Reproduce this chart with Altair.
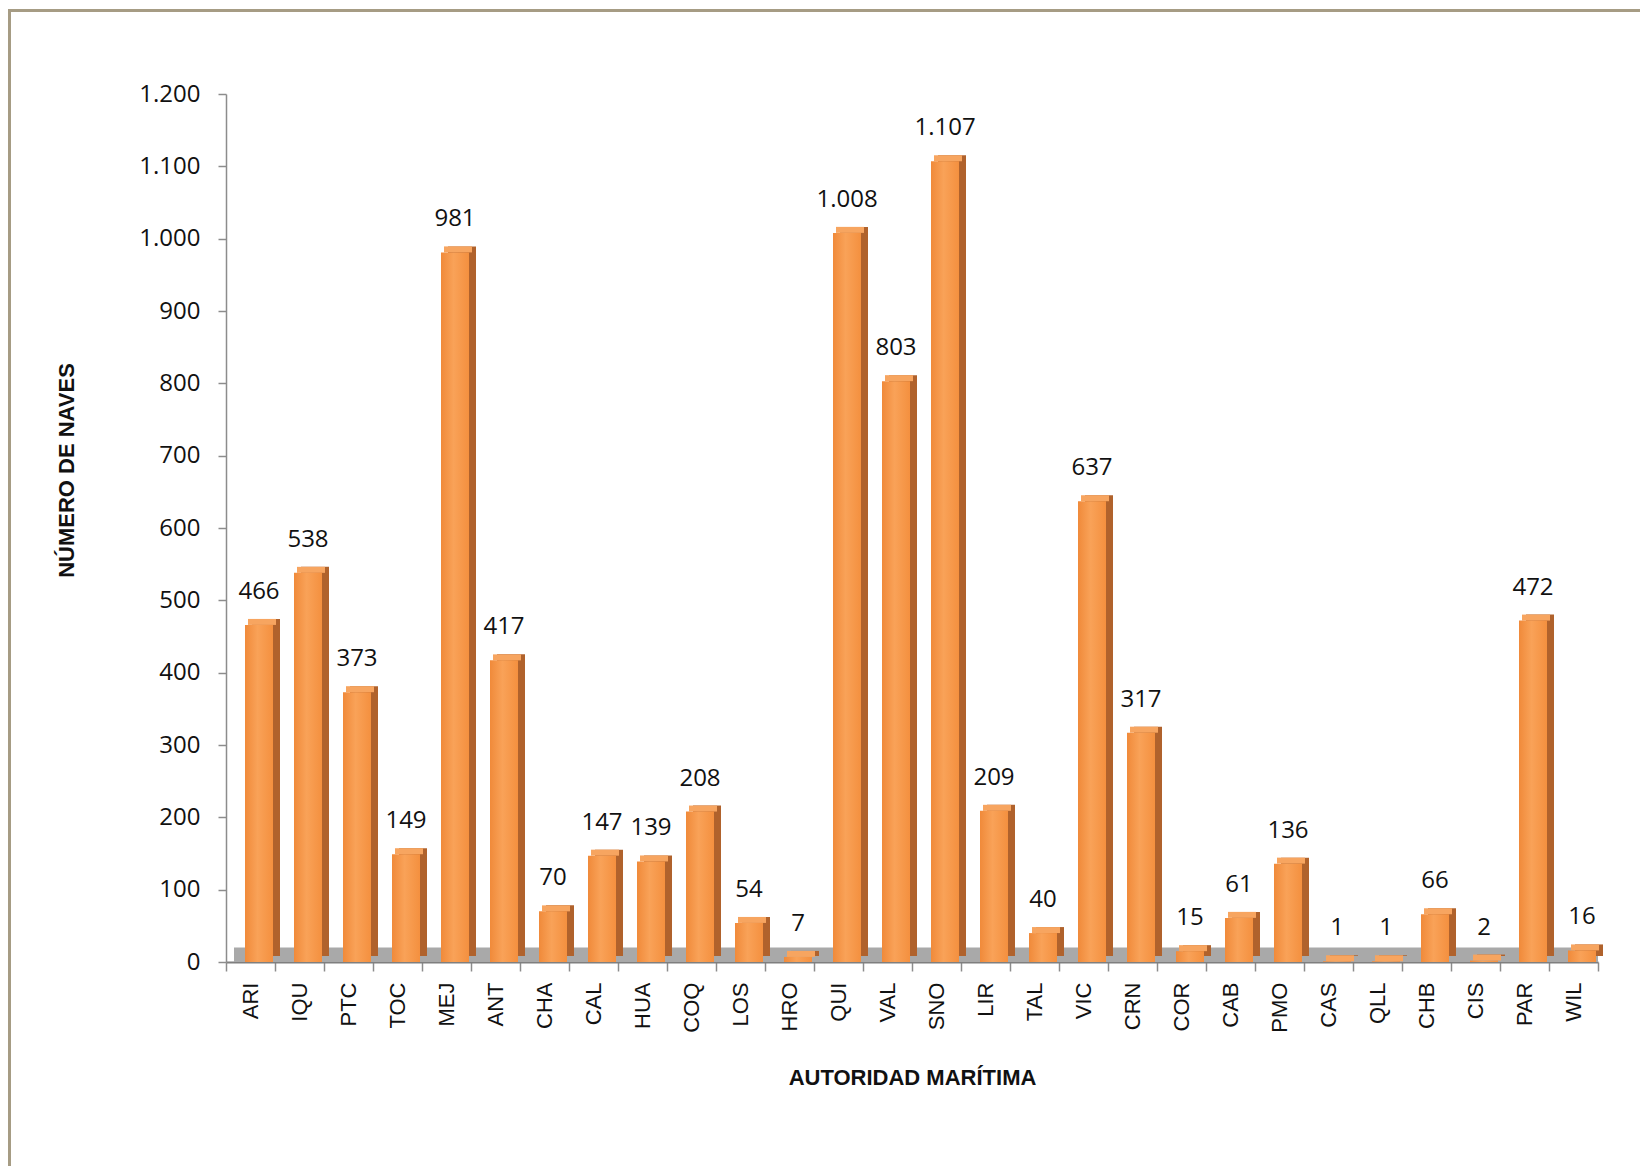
import altair as alt
import pandas as pd

categories = ["ARI", "IQU", "PTC", "TOC", "MEJ", "ANT", "CHA", "CAL", "HUA", "COQ",
              "LOS", "HRO", "QUI", "VAL", "SNO", "LIR", "TAL", "VIC", "CRN", "COR",
              "CAB", "PMO", "CAS", "QLL", "CHB", "CIS", "PAR", "WIL"]
values = [466, 538, 373, 149, 981, 417, 70, 147, 139, 208,
          54, 7, 1008, 803, 1107, 209, 40, 637, 317, 15,
          61, 136, 1, 1, 66, 2, 472, 16]
y_ticks = [0, 100, 200, 300, 400, 500, 600, 700, 800, 900, 1000, 1100, 1200]
floor_depth = [0, 20]

x_title = "AUTORIDAD MARÍTIMA"
y_title = "NÚMERO DE NAVES"

df = pd.DataFrame({"cat": categories, "n": values})
one = pd.DataFrame({"a": [0]})

W, H = 1372, 868
OFF = 8.5
BAR = 28
DEPTH = 6

SIDE = "#B0622C"
TOP = "#F7A560"
FLOOR = "#A9A9A9"
FRAME = "#A69C84"
AXIS = "#8C8C8C"

x_axis = alt.Axis(
    labelAngle=270, labelAlign="right", labelBaseline="middle",
    labelFont="Liberation Sans", labelFontSize=22, labelColor="#111111",
    labelPadding=11, tickBand="extent", tickSize=9, tickColor=AXIS, tickWidth=1.5,
    domainColor="#7F7F7F", domainWidth=2,
    titleFont="Liberation Sans", titleFontSize=22, titleFontWeight="bold",
    titleColor="#111111", titleY=115, titleBaseline="middle",
)
y_axis = alt.Axis(
    values=y_ticks, grid=False,
    labelExpr="replace(format(datum.value, ','), ',', '.')",
    labelFont="Open Sans", labelFontSize=24, labelColor="#111111", labelPadding=18,
    tickSize=8, tickColor=AXIS, tickWidth=1.5, domainColor=AXIS, domainWidth=1.5,
    titleFont="Liberation Sans", titleFontSize=22, titleFontWeight="bold",
    titleColor="#111111", titleAngle=270, titleAlign="center", titleBaseline="middle",
    titleX=-160, titleY=376,
)
y_scale = alt.Scale(domain=[0, 1200], nice=False, zero=True)

x_enc = alt.X("cat:N", sort=categories,
              scale=alt.Scale(paddingInner=0, paddingOuter=0),
              axis=x_axis, title=x_title)
y_enc = alt.Y("n:Q", scale=y_scale, axis=y_axis, title=y_title)

floor = alt.Chart(one).mark_rect(color=FLOOR, xOffset=8).encode(
    x=alt.value(0), x2=alt.value(W),
    y=alt.Y(datum=floor_depth[0], type="quantitative", scale=y_scale, axis=y_axis, title=y_title),
    y2=alt.Y2(datum=floor_depth[1]),
)

side = alt.Chart(df).mark_bar(size=BAR, color=SIDE, xOffset=OFF + DEPTH + 1, yOffset=-DEPTH).encode(
    x=x_enc, y=y_enc
)
top = alt.Chart(df).mark_tick(size=BAR, thickness=DEPTH, color=TOP,
                              xOffset=OFF + DEPTH / 2, yOffset=-DEPTH / 2, opacity=1).encode(
    x=x_enc, y=y_enc
)
front = alt.Chart(df).mark_bar(
    size=BAR, xOffset=OFF,
    color=alt.Gradient(
        gradient="linear", x1=0, x2=1, y1=0, y2=0,
        stops=[alt.GradientStop(color="#F08A3A", offset=0),
               alt.GradientStop(color="#F9A258", offset=0.45),
               alt.GradientStop(color="#F4903F", offset=1)],
    ),
).encode(x=x_enc, y=y_enc)

labels = alt.Chart(df).transform_calculate(
    label="replace(format(datum.n, ','), ',', '.')"
).mark_text(
    font="Open Sans", fontSize=24, color="#111111", baseline="alphabetic",
    align="center", dy=-26, xOffset=OFF,
).encode(x=x_enc, y=y_enc, text="label:N")

frame_left = alt.Chart(one).mark_rect(color=FRAME, strokeWidth=0).encode(
    x=alt.value(-218), x2=alt.value(-215), y=alt.value(-85), y2=alt.value(1072)
)
frame_top = alt.Chart(one).mark_rect(color=FRAME, strokeWidth=0).encode(
    x=alt.value(-218), x2=alt.value(1414), y=alt.value(-85), y2=alt.value(-82)
)

chart = alt.layer(
    floor, side, top, front, labels, frame_left, frame_top
).properties(
    width=W, height=H,
    padding={"left": 0, "top": 1, "right": 0, "bottom": 0},
    background="white",
).configure_view(strokeWidth=0)

chart.save("out.html", embed_options={"renderer": "svg", "actions": False})
